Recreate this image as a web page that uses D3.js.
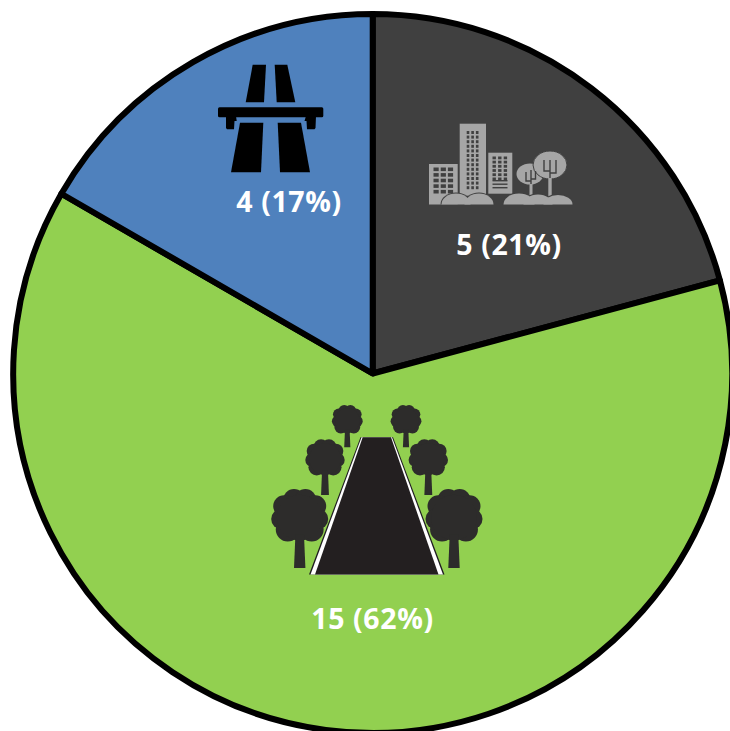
<!DOCTYPE html>
<html>
<head>
<meta charset="utf-8">
<script src="https://cdn.jsdelivr.net/npm/d3@7"></script>
<style>
  html, body { margin: 0; padding: 0; background: #fff; overflow: hidden; }
  svg { display: block; }
</style>
</head>
<body>
<div id="container"></div>
<script>
'use strict';

var categories = ['urban', 'rural', 'motorway'];
var values = [5, 15, 4];
var labels = ['5 (21%)', '15 (62%)', '4 (17%)'];
var colors = ['#404040', '#92d050', '#4f81bd'];

var w = 730, h = 731;
var cx = 372.7, cy = 373.5, radius = 359.5;

var labelPos = {
    urban: [509, 255],
    rural: [372.5, 629],
    motorway: [289, 212]
};

var svg = d3.select('#container')
    .append('svg')
        .attr('width', w)
        .attr('height', h);

var pie = d3.pie().sort(null).value(function(d) { return d; });
var arc = d3.arc().innerRadius(0).outerRadius(radius);

var slices = pie(values);

svg.append('g')
    .attr('transform', 'translate(' + cx + ',' + cy + ')')
    .selectAll('path')
    .data(slices)
    .enter()
    .append('path')
        .attr('d', arc)
        .attr('fill', function(d, i) { return colors[i]; })
        .attr('stroke', '#000')
        .attr('stroke-width', 6)
        .attr('stroke-linejoin', 'round');

var poly = function(parent, pts, fill) {
    return parent.append('polygon')
        .attr('points', pts.map(function(p) { return p.join(','); }).join(' '))
        .attr('fill', fill);
};

// motorway icon
var road = svg.append('g').attr('class', 'icon-motorway');
poly(road, [[252.7, 64.7], [266, 64.7], [264, 102.3], [245.7, 102.3]], '#000');
poly(road, [[274.7, 64.7], [287.3, 64.7], [295.3, 102.3], [276.7, 102.3]], '#000');
poly(road, [[240, 122.7], [263.3, 122.7], [261, 172.3], [231, 172.3]], '#000');
poly(road, [[277.7, 122.7], [301, 122.7], [310, 172.3], [280, 172.3]], '#000');
road.append('rect').attr('x', 218).attr('y', 107.3).attr('width', 105.3).attr('height', 10).attr('rx', 1.5).attr('fill', '#000');
poly(road, [[226, 116], [236, 116], [236.7, 121], [234.5, 121], [234, 129.3], [227, 129.3], [226, 128]], '#000');
poly(road, [[306, 116], [316, 116], [315.5, 128], [314.5, 129.3], [307, 129.3], [306.5, 121], [304.5, 121]], '#000');

// city icon
var city = svg.append('g').attr('class', 'icon-urban');
var gray = '#a6a6a6', dark = '#404040';
var building = function(x, y, bw, bh, wx, wy, cols, rows, ww, wh, gx, gy) {
    city.append('rect').attr('x', x).attr('y', y).attr('width', bw).attr('height', bh).attr('fill', gray);
    d3.range(rows).forEach(function(r) {
        d3.range(cols).forEach(function(c) {
            city.append('rect')
                .attr('x', wx + c * gx).attr('y', wy + r * gy)
                .attr('width', ww).attr('height', wh)
                .attr('fill', dark);
        });
    });
};
building(429, 164, 28.7, 40.5, 433.5, 167.5, 3, 5, 5.2, 3.6, 7.2, 5.6);
building(459.7, 123.7, 26.3, 72, 466.7, 131, 3, 13, 2.6, 3, 4.6, 4.6);
building(488.3, 152.7, 24, 41, 492.5, 156.5, 3, 6, 3.4, 2.8, 5.6, 4.2);
[178.5, 182, 185.5].forEach(function(y) {
    city.append('rect').attr('x', 492.5).attr('y', y + 1.5).attr('width', 15).attr('height', 1.4).attr('fill', dark);
});
// round trees
city.append('ellipse').attr('cx', 530).attr('cy', 174).attr('rx', 13.5).attr('ry', 10.5).attr('fill', gray);
city.append('ellipse').attr('cx', 550).attr('cy', 165).attr('rx', 17).attr('ry', 14).attr('fill', gray).attr('stroke', dark).attr('stroke-width', 1);
var branch = d3.line();
[
    [[531, 197], [531, 170]],
    [[531, 181], [526, 181], [526, 172]],
    [[531, 179], [535.5, 179], [535.5, 171]],
    [[550, 197], [550, 160]],
    [[550, 171], [544, 171], [544, 160]],
    [[550, 173], [556, 173], [556, 160]]
].forEach(function(b) {
    city.append('path').attr('d', branch(b)).attr('fill', 'none').attr('stroke', dark).attr('stroke-width', 1.4);
});
city.append('rect').attr('x', 529.5).attr('y', 184).attr('width', 3).attr('height', 14).attr('fill', gray);
city.append('rect').attr('x', 548.3).attr('y', 178).attr('width', 3.4).attr('height', 20).attr('fill', gray);
// bushes along the bottom, cut off flat at the ground line
svg.append('clipPath').attr('id', 'ground')
    .append('rect').attr('x', 425).attr('y', 120).attr('width', 150).attr('height', 84.5);
var bushes = city.append('g').attr('clip-path', 'url(#ground)');
[[456, 14.5, 11], [479, 14.5, 11], [519, 15.5, 11], [538, 14.5, 10], [558, 14.5, 9.5]].forEach(function(b) {
    bushes.append('ellipse').attr('cx', b[0]).attr('cy', 204.5).attr('rx', b[1] + 1).attr('ry', b[2] + 1).attr('fill', dark);
});
[[456, 14.5, 11], [479, 14.5, 11], [519, 15.5, 11], [538, 14.5, 10], [558, 14.5, 9.5]].forEach(function(b) {
    bushes.append('ellipse').attr('cx', b[0]).attr('cy', 204.5).attr('rx', b[1]).attr('ry', b[2]).attr('fill', gray);
});

// avenue icon
var avenue = svg.append('g').attr('class', 'icon-rural');
var lobes = [[-0.2, -0.62, 0.38], [0.2, -0.62, 0.38], [-0.55, -0.4, 0.38], [0.55, -0.4, 0.38], [-0.64, 0.05, 0.36], [0.64, 0.05, 0.36],
             [-0.42, 0.42, 0.42], [0.42, 0.42, 0.42], [0, 0.4, 0.42], [0, 0, 0.8]];
var tree = function(x, y, r, bottom) {
    var t = avenue.append('g').attr('transform', 'translate(' + x + ',' + y + ') scale(' + r + ')');
    lobes.forEach(function(l) {
        t.append('circle').attr('cx', l[0]).attr('cy', l[1]).attr('r', l[2]).attr('fill', '#2d2c2b');
    });
    t.append('polygon').attr('points', '-0.15,0.6 0.15,0.6 0.2,' + bottom + ' -0.2,' + bottom).attr('fill', '#2d2c2b');
};
tree(299.7, 517.5, 28.5, 1.77);
tree(454, 517.5, 28.5, 1.77);
tree(325, 459, 19.7, 1.83);
tree(428.3, 459, 19.7, 1.83);
tree(347.3, 420.5, 15.4, 1.74);
tree(406, 420.5, 15.4, 1.74);
poly(avenue, [[360.5, 437.3], [393, 437.3], [444.5, 574.5], [309, 574.5]], '#1f1d20');
poly(avenue, [[361.5, 437.3], [392, 437.3], [443, 574.5], [310.5, 574.5]], '#ffffff');
poly(avenue, [[362.7, 437.3], [391, 437.3], [438.5, 574.5], [315, 574.5]], '#231f20');

svg.append('g')
    .selectAll('text')
    .data(categories)
    .enter()
    .append('text')
        .attr('x', function(d) { return labelPos[d][0]; })
        .attr('y', function(d) { return labelPos[d][1]; })
        .attr('text-anchor', 'middle')
        .attr('fill', '#fff')
        .attr('font-family', '"Open Sans", "Noto Sans", sans-serif')
        .attr('font-weight', 700)
        .attr('font-size', 28.5)
        .attr('letter-spacing', 0.6)
        .text(function(d, i) { return labels[i]; });
</script>
</body>
</html>
